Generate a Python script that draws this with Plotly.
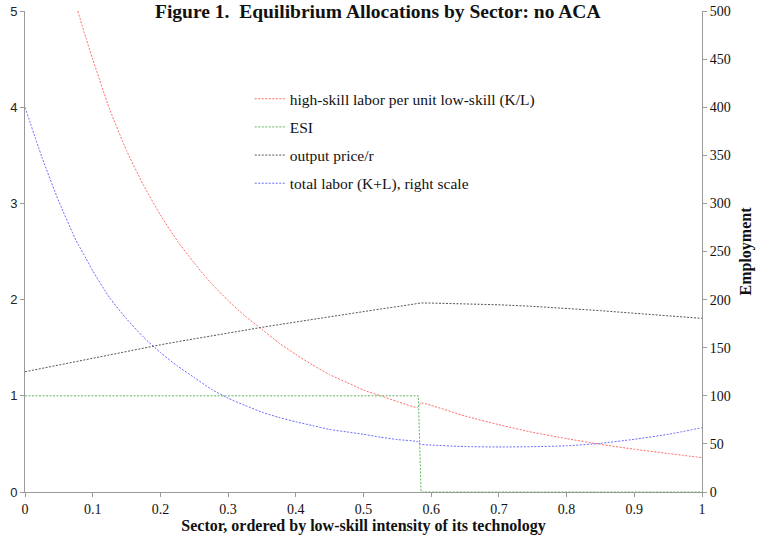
import plotly.graph_objects as go

# Sector positions and series values
sector = [0.0, 0.025, 0.05, 0.075, 0.078, 0.09, 0.10, 0.125, 0.15, 0.175, 0.20, 0.225, 0.25, 0.275,
          0.30, 0.325, 0.35, 0.375, 0.40, 0.425, 0.45, 0.475, 0.50, 0.525, 0.55, 0.58,
          0.585, 0.60, 0.65, 0.70, 0.75, 0.80, 0.85, 0.90, 0.95, 1.0]

kl_ratio = [None, None, None, None, 5.0, 4.72, 4.50, 3.98, 3.55, 3.19, 2.88, 2.61, 2.38, 2.17,
            1.99, 1.83, 1.69, 1.55, 1.43, 1.32, 1.22, 1.14, 1.06, 1.00, 0.94, 0.88,
            0.925, 0.90, 0.79, 0.70, 0.62, 0.555, 0.495, 0.445, 0.40, 0.357]

esi_x = [0.0, 0.1, 0.2, 0.3, 0.4, 0.5, 0.581, 0.585, 0.6, 0.7, 0.8, 0.9, 1.0]
esi = [1, 1, 1, 1, 1, 1, 1, 0, 0, 0, 0, 0, 0]

price_r = [4.0, 3.48, 3.02, 2.62, 2.58, 2.43, 2.30, 2.02, 1.80, 1.61, 1.45, 1.31, 1.19, 1.07,
           0.975, 0.90, 0.83, 0.775, 0.73, 0.69, 0.65, 0.625, 0.60, 0.57, 0.545, 0.523,
           0.496, 0.488, 0.472, 0.468, 0.471, 0.48, 0.506, 0.548, 0.60, 0.668]

total_labor = [125, 128.6, 132, 135.5, 136, 137.6, 139, 142.7, 146.3, 149.7, 153, 156.2, 159.3, 162.3,
               165.2, 168.2, 171.2, 174, 176.8, 179.6, 182.3, 185, 187.6, 190.2, 192.7, 196,
               196.5, 196.4, 195.8, 194.6, 193.0, 191.0, 188.5, 185.8, 183.2, 180.5]

legend_names = ["high-skill labor per unit low-skill (K/L)", "ESI", "output price/r",
                "total labor (K+L), right scale"]

RED = "#ff6b6b"
GREEN = "#5cb85c"
BLUE = "#6b6bff"
GRAY = "#555555"
DASH = "2px,1.5px"
SERIF = "Liberation Serif, Times New Roman, serif"
SANS = "Liberation Sans, Arial, sans-serif"

fig = go.Figure()

fig.add_trace(go.Scatter(x=sector, y=kl_ratio, mode="lines", showlegend=False,
                         line=dict(color=RED, width=1, dash=DASH, shape="spline", smoothing=0.6),
                         name=legend_names[0]))
fig.add_trace(go.Scatter(x=esi_x, y=esi, mode="lines", showlegend=False,
                         line=dict(color=GREEN, width=1, dash=DASH), name=legend_names[1]))
fig.add_trace(go.Scatter(x=sector, y=price_r, mode="lines", showlegend=False,
                         line=dict(color=BLUE, width=1, dash=DASH, shape="spline", smoothing=0.6),
                         name=legend_names[2]))
fig.add_trace(go.Scatter(x=sector, y=total_labor, mode="lines", showlegend=False, yaxis="y2",
                         line=dict(color=GRAY, width=1, dash=DASH), name=legend_names[3]))

legend_colors = [RED, GREEN, GRAY, BLUE]
for i, (nm, c) in enumerate(zip(legend_names, legend_colors)):
    fig.add_trace(go.Scatter(x=[None], y=[None], mode="lines", name=nm, legendgroup=f"g{i}",
                             line=dict(color=c, width=1, dash=DASH)))

axis_common = dict(showgrid=False, zeroline=False, showline=True, linecolor="#9a9a9a",
                   linewidth=1, ticks="outside", ticklen=4, tickcolor="#9a9a9a", automargin=False)

fig.update_layout(
    width=758, height=539,
    margin=dict(l=25, r=56, t=11, b=47),
    paper_bgcolor="white", plot_bgcolor="white",
    xaxis=dict(range=[0, 1], dtick=0.1, tick0=0, **axis_common,
               tickfont=dict(family=SERIF, size=14, color="#111"),
               title=dict(text="<b>Sector, ordered by low-skill intensity of its technology</b>",
                          font=dict(family=SERIF, size=16, color="#111"), standoff=3)),
    yaxis=dict(range=[0, 5], dtick=1, tick0=0, **axis_common,
               tickfont=dict(family=SANS, size=13, color="#222")),
    yaxis2=dict(range=[0, 500], dtick=50, tick0=0, overlaying="y", side="right", **axis_common,
                tickfont=dict(family=SERIF, size=14, color="#111"),
                title=dict(text="<b>Employment</b>", font=dict(family=SERIF, size=16, color="#111"),
                           standoff=10)),
    legend=dict(x=0.332, y=0.852, xanchor="left", yanchor="top", bgcolor="rgba(0,0,0,0)",
                font=dict(family=SERIF, size=15.5, color="#111"), tracegroupgap=5,
                traceorder="grouped", itemwidth=30),
    showlegend=True,
    annotations=[dict(text="<b>Figure 1.\u00a0 Equilibrium Allocations by Sector: no ACA</b>",
                      xref="paper", yref="paper", x=0.521, y=1.0, xanchor="center",
                      yanchor="middle", showarrow=False,
                      font=dict(family=SERIF, size=19.5, color="#111"))],
)

fig.write_html("out.html")
